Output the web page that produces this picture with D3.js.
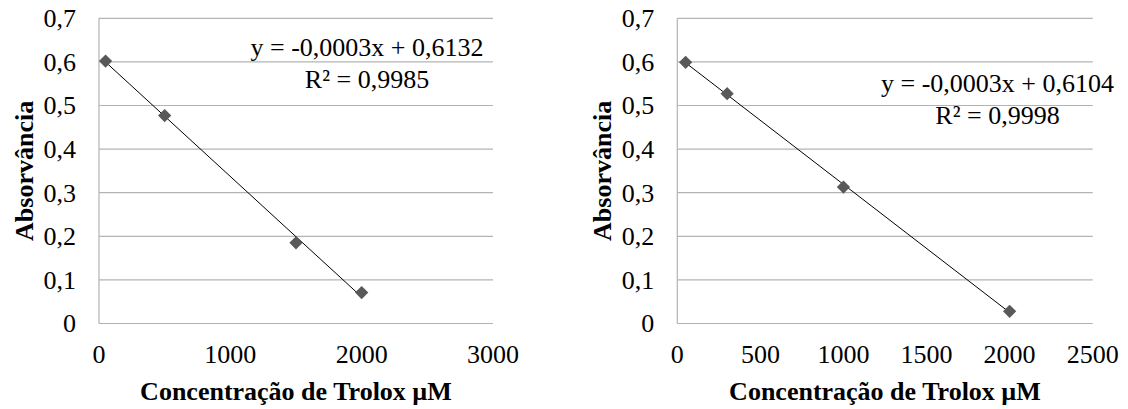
<!DOCTYPE html>
<html>
<head>
<meta charset="utf-8">
<script src="https://cdn.jsdelivr.net/npm/d3@7"></script>
<style>
  body { margin: 0; background: #fff; }
  svg text { font-family: "Liberation Serif", "Times New Roman", serif; fill: #000; }
</style>
</head>
<body>
<div id="chart"></div>
<script>
var svgWidth = 1128;
var svgHeight = 409;

// chart 1
var conc1 = [50, 500, 1500, 2000];
var abs1 = [0.602, 0.477, 0.185, 0.071];
var xTicks1 = [0, 1000, 2000, 3000];
var eq1 = ["y = -0,0003x + 0,6132", "R² = 0,9985"];

// chart 2
var conc2 = [50, 300, 1000, 2000];
var abs2 = [0.599, 0.527, 0.313, 0.028];
var xTicks2 = [0, 500, 1000, 1500, 2000, 2500];
var eq2 = ["y = -0,0003x + 0,6104", "R² = 0,9998"];

var yTicks = [0, 0.1, 0.2, 0.3, 0.4, 0.5, 0.6, 0.7];
var xTitle = "Concentração de Trolox µM";
var yTitle = "Absorvância";

var svg = d3.select("#chart")
  .append("svg")
  .attr("width", svgWidth)
  .attr("height", svgHeight);

var fmt = d => d3.format(".1f")(d).replace(".", ",").replace(/^0,0$/, "0");

function drawChart(opts) {
  var x = d3.scaleLinear().domain([0, d3.max(opts.xTicks)]).range([opts.left, opts.right]);
  var y = d3.scaleLinear().domain([0, 0.7]).range([323.5, 18.3]);
  var g = svg.append("g");

  // gridlines
  g.selectAll(".grid")
    .data(yTicks)
    .enter()
    .append("line")
    .attr("x1", opts.left)
    .attr("x2", opts.right)
    .attr("y1", d => y(d))
    .attr("y2", d => y(d))
    .attr("stroke", "#b3b3b3")
    .attr("stroke-width", 1.2);

  g.append("line")
    .attr("x1", opts.left).attr("x2", opts.left)
    .attr("y1", y(0.7)).attr("y2", y(0))
    .attr("stroke", "#b3b3b3")
    .attr("stroke-width", 1.2);

  // y tick labels
  g.selectAll(".ylab")
    .data(yTicks)
    .enter()
    .append("text")
    .attr("x", opts.left - 23)
    .attr("y", d => y(d))
    .attr("dy", "0.34em")
    .attr("text-anchor", "end")
    .attr("font-size", 26)
    .text(d => d === 0 ? "0" : fmt(d));

  // x tick labels
  g.selectAll(".xlab")
    .data(opts.xTicks)
    .enter()
    .append("text")
    .attr("x", d => x(d))
    .attr("y", 363)
    .attr("text-anchor", "middle")
    .attr("font-size", 26)
    .text(d => d);

  // axis titles
  g.append("text")
    .attr("x", (opts.left + opts.right) / 2)
    .attr("y", 400)
    .attr("text-anchor", "middle")
    .attr("font-size", 26)
    .attr("font-weight", "bold")
    .text(xTitle);

  g.append("text")
    .attr("transform", `translate(${opts.left - 66}, ${(y(0) + y(0.7)) / 2}) rotate(-90)`)
    .attr("text-anchor", "middle")
    .attr("font-size", 26)
    .attr("font-weight", "bold")
    .text(yTitle);

  // linear trendline (least squares)
  var xs = opts.xs, ys = opts.ys;
  var mx = d3.mean(xs), my = d3.mean(ys);
  var sxy = d3.sum(xs, (v, i) => (v - mx) * (ys[i] - my));
  var sxx = d3.sum(xs, v => (v - mx) * (v - mx));
  var slope = sxy / sxx;
  var icpt = my - slope * mx;
  var x0 = d3.min(xs), x1 = d3.max(xs);

  g.append("line")
    .attr("x1", x(x0)).attr("y1", y(icpt + slope * x0))
    .attr("x2", x(x1)).attr("y2", y(icpt + slope * x1))
    .attr("stroke", "#000")
    .attr("stroke-width", 1);

  // markers
  var diamond = d3.symbol().type(d3.symbolSquare).size(88);
  g.selectAll(".pt")
    .data(xs)
    .enter()
    .append("path")
    .attr("d", diamond)
    .attr("transform", (d, i) => `translate(${x(d)}, ${y(ys[i])}) rotate(45)`)
    .attr("fill", "#595959");

  // equation
  g.selectAll(".eq")
    .data(opts.eq)
    .enter()
    .append("text")
    .attr("x", opts.eqX)
    .attr("y", (d, i) => opts.eqY + i * 32)
    .attr("text-anchor", "middle")
    .attr("font-size", 26)
    .text(d => d);
}

drawChart({ left: 99, right: 493, xTicks: xTicks1, xs: conc1, ys: abs1, eq: eq1, eqX: 367, eqY: 56 });
drawChart({ left: 677.3, right: 1092.7, xTicks: xTicks2, xs: conc2, ys: abs2, eq: eq2, eqX: 997.5, eqY: 91.5 });
</script>
</body>
</html>
